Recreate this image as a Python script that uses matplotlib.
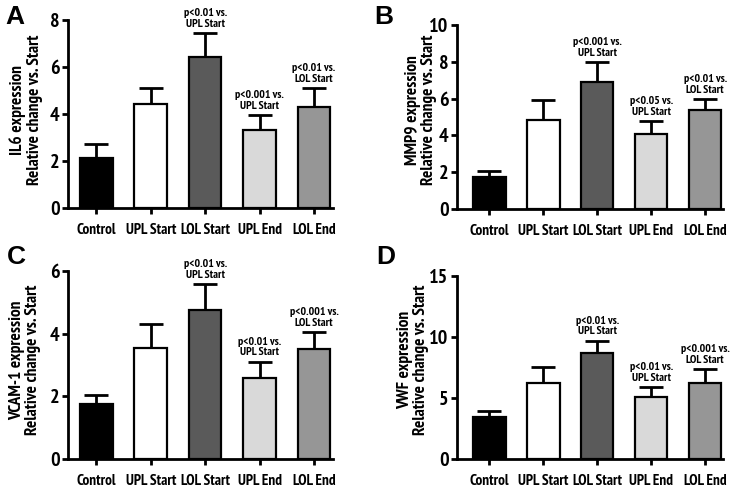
import matplotlib
matplotlib.use("Agg")
import matplotlib.pyplot as plt
from matplotlib import font_manager

names = {f.name for f in font_manager.fontManager.ttflist}
cond = "DejaVu Sans"
for cand in ["PT Sans Narrow", "Fira Sans Condensed", "Roboto Condensed", "Open Sans Condensed",
             "IBM Plex Sans Condensed", "Liberation Sans Narrow"]:
    if cand in names:
        cond = cand
        break
plt.rcParams['font.family'] = [cond, 'DejaVu Sans']

categories = ["Control", "UPL Start", "LOL Start", "UPL End", "LOL End"]
bar_colors = ["#000000", "#ffffff", "#5a5a5a", "#d9d9d9", "#969696"]

il6_mean = [2.12, 4.42, 6.43, 3.33, 4.28]
il6_err = [0.60, 0.68, 1.01, 0.64, 0.82]
mmp9_mean = [1.76, 4.86, 6.92, 4.08, 5.40]
mmp9_err = [0.32, 1.06, 1.07, 0.69, 0.59]
vcam_mean = [1.77, 3.53, 4.76, 2.59, 3.52]
vcam_err = [0.27, 0.77, 0.83, 0.52, 0.54]
vwf_mean = [3.46, 6.19, 8.66, 5.07, 6.19]
vwf_err = [0.44, 1.38, 1.04, 0.82, 1.17]

il6_notes = ["", "", "p<0.01 vs.\nUPL Start", "p<0.001 vs.\nUPL Start", "p<0.01 vs.\nLOL Start"]
mmp9_notes = ["", "", "p<0.001 vs.\nUPL Start", "p<0.05 vs.\nUPL Start", "p<0.01 vs.\nLOL Start"]
vcam_notes = ["", "", "p<0.01 vs.\nUPL Start", "p<0.01 vs.\nUPL Start", "p<0.001 vs.\nLOL Start"]
vwf_notes = ["", "", "p<0.01 vs.\nUPL Start", "p<0.01 vs.\nUPL Start", "p<0.001 vs.\nLOL Start"]

W, H = 733.0, 491.0


def rect(left, right, top, bottom):
    return [left / W, 1 - bottom / H, (right - left) / W, (bottom - top) / H]


panels = [
    ("A", "IL6 expression", il6_mean, il6_err, il6_notes, 8, [0, 2, 4, 6, 8],
     rect(68, 333, 20, 208), (-0.52, 4.35), (5, 17), (26, 110)),
    ("B", "MMP9 expression", mmp9_mean, mmp9_err, mmp9_notes, 10, [0, 2, 4, 6, 8, 10],
     rect(457, 723, 25, 209), (-0.6, 4.33), (374, 17), (421, 110)),
    ("C", "VCAM-1 expression", vcam_mean, vcam_err, vcam_notes, 6, [0, 2, 4, 6],
     rect(68, 333, 271, 459), (-0.52, 4.35), (7, 257), (25, 360)),
    ("D", "VWF expression", vwf_mean, vwf_err, vwf_notes, 15, [0, 5, 10, 15],
     rect(457, 723, 276, 459), (-0.6, 4.33), (376, 257), (413, 360)),
]

fig = plt.figure(figsize=(7.33, 4.91), dpi=100)

for letter, ylab, means, errs, notes, ymax, yticks, r, xl, letter_xy, lab_xy in panels:
    ax = fig.add_axes(r)
    x = list(range(len(categories)))
    ax.bar(x, means, width=0.6, color=bar_colors, edgecolor="black", linewidth=1.6, zorder=2)
    ax.errorbar(x, means, yerr=[[0] * len(errs), errs], fmt="none", ecolor="black",
                elinewidth=2, capsize=8.5, capthick=2, zorder=1)
    for xi, m, e, note in zip(x, means, errs, notes):
        if note:
            ax.annotate(note, xy=(xi, m + e), xytext=(0, 3), textcoords="offset points",
                        ha="center", va="bottom", fontsize=8.5, fontweight="bold",
                        linespacing=1.1, annotation_clip=False)
    ax.set_xlim(*xl)
    ax.set_ylim(0, ymax)
    ax.set_yticks(yticks)
    ax.set_xticks(x)
    ax.set_xticklabels(categories)
    for s in ["top", "right"]:
        ax.spines[s].set_visible(False)
    ax.spines["left"].set_linewidth(2)
    ax.spines["bottom"].set_linewidth(2)
    ax.tick_params(axis="both", width=2, length=4)
    ax.tick_params(axis="y", labelsize=14.5, pad=2)
    ax.tick_params(axis="x", labelsize=11, pad=7)
    for lab in ax.get_xticklabels() + ax.get_yticklabels():
        lab.set_fontweight("bold")
    fig.text(lab_xy[0] / W, 1 - lab_xy[1] / H, ylab + "\nRelative change vs. Start",
             rotation=90, ha="center", va="center", fontsize=12.5, fontweight="bold",
             linespacing=1.05)
    fig.text(letter_xy[0] / W, 1 - letter_xy[1] / H, letter, fontsize=19, fontweight="bold",
             family=["Liberation Sans", "DejaVu Sans"], ha="left", va="center")

fig.savefig("out.png", dpi=100)
